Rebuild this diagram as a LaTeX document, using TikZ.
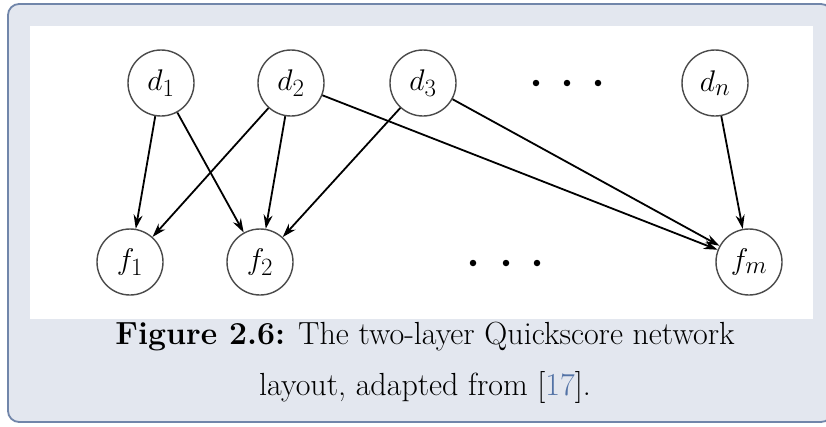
\documentclass[tikz,border=0pt]{standalone}
\usepackage{fontspec}
\usepackage{graphicx}
\usetikzlibrary{arrows.meta}
\definecolor{framefill}{HTML}{E3E7EF}
\definecolor{frameline}{HTML}{7186AA}
\definecolor{citeblue}{HTML}{5373A6}
\definecolor{circleline}{HTML}{4A4A4A}
% variable label, enlarged beyond the largest math design size
\newcommand{\varlabel}[1]{\scalebox{1.2}{$#1$}}
\begin{document}
\begin{tikzpicture}[x=1pt,y=-1pt,
  var/.style={circle,draw=circleline,line width=1.4pt,minimum size=66pt,inner sep=0pt,fill=white,
    font=\fontsize{24.88}{26}\selectfont},
  link/.style={line width=1.8pt,-{Stealth[length=14pt,width=9pt]}},
  dotmark/.style={circle,fill=black,inner sep=0pt,minimum size=6.5pt}]
  \useasboundingbox (0,0) rectangle (826,426);
  \clip (0,0) rectangle (826,426);
  % caption frame and figure area
  \draw[fill=framefill,draw=frameline,line width=1.8pt,rounded corners=11pt] (8,4) rectangle (832,422);
  \fill[white] (30,26) rectangle (813,319);
  % disease layer
  \node[var] (d1) at (161,83) {\varlabel{d_1}};
  \node[var] (d2) at (291,83) {\varlabel{d_2}};
  \node[var] (d3) at (423,83) {\varlabel{d_3}};
  \node[var] (dn) at (715,83) {\varlabel{d_n}};
  \node[dotmark] (td1) at (536,83) {};
  \node[dotmark] (td2) at (567,83) {};
  \node[dotmark] (td3) at (598,83) {};
  % finding layer
  \node[var] (f1) at (130,262) {\varlabel{f_1}};
  \node[var] (f2) at (260,262) {\varlabel{f_2}};
  \node[var] (fm) at (749,262) {\varlabel{f_m}};
  \node[dotmark] (bd1) at (473,263) {};
  \node[dotmark] (bd2) at (506,263) {};
  \node[dotmark] (bd3) at (537,263) {};
  % edges
  \draw[link] (d1) -- (f1);
  \draw[link] (d1) -- (f2);
  \draw[link] (d2) -- (f1);
  \draw[link] (d2) -- (f2);
  \draw[link] (d2) -- (fm);
  \draw[link] (d3) -- (f2);
  \draw[link] (d3) -- (fm);
  \draw[link] (dn) -- (fm);
  % caption
  \node[align=center,font=\fontsize{32}{51}\selectfont] (cap) at (425,363)
    {\textbf{Figure 2.6:} The two-layer Quickscore network\\layout, adapted from [\textcolor{citeblue}{17}].};
\end{tikzpicture}
\end{document}
